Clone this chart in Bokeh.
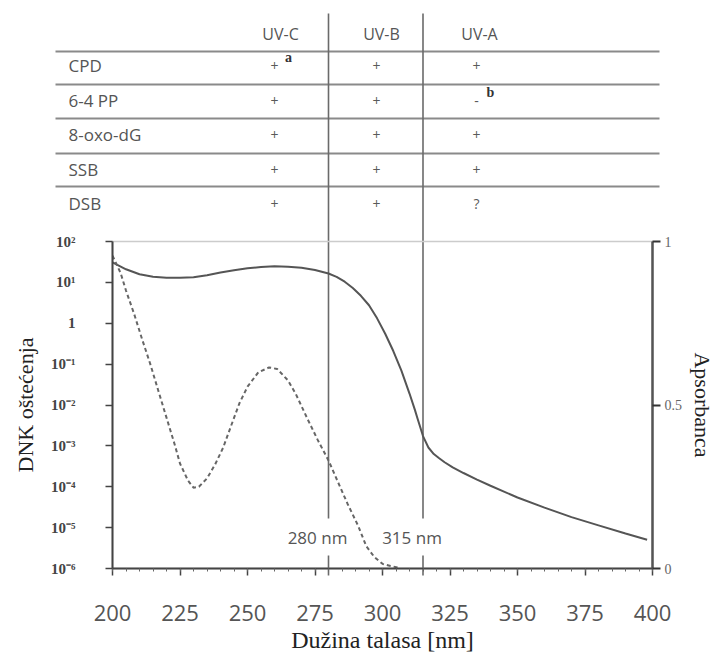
from bokeh.plotting import figure
from bokeh.models import (Range1d, LinearAxis, LinearScale, FixedTicker, SingleIntervalTicker,
                          CustomJSTickFormatter)
from bokeh.layouts import column
from bokeh.core.properties import value
from bokeh.embed import file_html
from bokeh.resources import INLINE

# ---------------- data ----------------
wavelength_abs = [200, 205, 210, 215, 220, 225, 230, 235, 240, 245, 250, 255, 260, 265,
                  270, 275, 280, 283, 286, 289, 292, 295, 298, 301, 304, 307, 310, 312,
                  313, 315, 317, 319, 321, 323, 326, 330, 335, 340, 350, 360, 370, 380,
                  390, 398]
absorbance = [0.936, 0.915, 0.900, 0.892, 0.889, 0.889, 0.891, 0.897, 0.905, 0.912,
              0.918, 0.922, 0.924, 0.923, 0.920, 0.913, 0.902, 0.892, 0.877, 0.858,
              0.834, 0.805, 0.765, 0.718, 0.665, 0.605, 0.535, 0.485, 0.458, 0.405,
              0.370, 0.350, 0.337, 0.325, 0.309, 0.292, 0.272, 0.253, 0.217, 0.186,
              0.157, 0.132, 0.107, 0.088]

wavelength_dmg = [200, 203, 205, 208, 211, 214, 217, 220, 223, 225, 228, 230, 232, 235,
                  238, 241, 244, 247, 250, 254, 258, 261, 265, 268, 272, 276, 280, 284,
                  287, 291, 294, 297, 300, 303, 306]
dna_damage = [45, 17, 6.3, 1.7, 0.4, 0.1, 2.2e-2, 4.9e-3, 1.1e-3, 3.7e-4, 1.4e-4, 9.5e-5,
              1.0e-4, 1.6e-4, 3.5e-4, 9.1e-4, 3.2e-3, 1.1e-2, 2.8e-2, 6.3e-2, 8.3e-2,
              7.6e-2, 4.0e-2, 1.8e-2, 4.9e-3, 1.4e-3, 4.4e-4, 1.1e-4, 3.9e-5, 1.1e-5,
              3.5e-6, 1.9e-6, 1.3e-6, 1.15e-6, 1.05e-6]

damage_ticks = [1e-6, 1e-5, 1e-4, 1e-3, 1e-2, 1e-1, 1, 10, 100]
damage_tick_labels = ["10⁻⁶", "10⁻⁵", "10⁻⁴", "10⁻³", "10⁻²", "10⁻¹", "1", "10¹", "10²"]
abs_ticks = [0, 0.5, 1]
abs_tick_labels = ["0", "0.5", "1"]

band_edges = [280, 315]
band_edge_labels = ["280 nm", "315 nm"]

bands = ["UV-C", "UV-B", "UV-A"]
lesions = ["CPD", "6-4 PP", "8-oxo-dG", "SSB", "DSB"]
uvc_marks = ["+", "+", "+", "+", "+"]
uvb_marks = ["+", "+", "+", "+", "+"]
uva_marks = ["+", "-", "+", "+", "?"]
footnote_text = ["a", "b"]
footnote_row = [0, 1]
footnote_col = [0, 2]

# ---------------- layout constants (pixels) ----------------
FIG_W, FIG_H = 722, 662
B_LEFT, B_RIGHT, B_TOP, B_BOTTOM = 112, 70, 241, 94
X_START, X_END = 200, 400
PX_PER_NM = (FIG_W - B_LEFT - B_RIGHT) / (X_END - X_START)

HEADER_Y = 33
ROW_Y = [65, 100, 134, 169, 203]
RULE_Y = [51, 84, 118, 153, 186]
RULE_X0, RULE_X1 = 55, 659
LESION_X = 68
MARK_X = [274, 376, 476]
HEADER_X = [280, 381, 479]
VLINE_TOP, VLINE_GAP0, VLINE_GAP1, VLINE_BOT = 13, 518, 555, 575
EDGE_LABEL_Y = 537

SANS_NAME = "Open Sans"
SERIF_NAME = "Liberation Serif"
SANS = value(SANS_NAME)
SERIF = value(SERIF_NAME)

LOOKUP_LOG = ("for (let i = 0; i < tvals.length; i++) {"
              " if (Math.abs(Math.log10(tvals[i]) - Math.log10(tick)) < 1e-6) return ttexts[i]; }"
              " return '';")
LOOKUP_LIN = ("for (let i = 0; i < tvals.length; i++) {"
              " if (Math.abs(tvals[i] - tick) < 1e-9) return ttexts[i]; }"
              " return '';")

# ---------------- background figure: table + band edges ----------------
bg = figure(width=FIG_W, height=FIG_H,
            x_range=Range1d(X_START - B_LEFT / PX_PER_NM, X_END + B_RIGHT / PX_PER_NM),
            y_range=Range1d(FIG_H, 0),
            x_axis_location=None, y_axis_location=None,
            toolbar_location=None, output_backend="svg", min_border=0,
            outline_line_color=None, frame_align=False)
bg.extra_x_ranges = {"px": Range1d(0, FIG_W)}
bg.grid.visible = False

bg.segment(x0=[RULE_X0] * len(RULE_Y), x1=[RULE_X1] * len(RULE_Y), y0=RULE_Y, y1=RULE_Y,
           x_range_name="px", line_color="#8a8a8a", line_width=2)

edge_x = [e for e in band_edges for _ in (0, 1)]
bg.segment(x0=edge_x, x1=edge_x,
           y0=[VLINE_TOP, VLINE_GAP1] * len(band_edges),
           y1=[VLINE_GAP0, VLINE_BOT] * len(band_edges),
           line_color="#6a6a6a", line_width=1.6)
bg.text(x=band_edges, y=[EDGE_LABEL_Y] * len(band_edges), text=band_edge_labels,
        x_offset=-11, text_align="center", text_baseline="middle",
        text_font=SANS, text_font_size="17px", text_color="#555555")

bg.text(x=HEADER_X, y=[HEADER_Y] * 3, text=bands, x_range_name="px",
        text_align="center", text_baseline="middle",
        text_font=SANS, text_font_size="16px", text_color="#555555")
bg.text(x=[LESION_X] * len(lesions), y=ROW_Y, text=lesions, x_range_name="px",
        text_align="left", text_baseline="middle",
        text_font=SANS, text_font_size="17px", text_color="#555555")
for cx, marks in zip(MARK_X, [uvc_marks, uvb_marks, uva_marks]):
    bg.text(x=[cx] * len(marks), y=ROW_Y, text=marks, x_range_name="px",
            text_align="center", text_baseline="middle",
            text_font=SANS, text_font_size="14px", text_color="#5a5a5a")
bg.text(x=[MARK_X[c] + 14 for c in footnote_col], y=[ROW_Y[r] - 8 for r in footnote_row],
        text=footnote_text, x_range_name="px", text_align="center", text_baseline="middle",
        text_font=SERIF, text_font_size="14px", text_font_style="bold", text_color="#333333")

# ---------------- chart ----------------
p = figure(width=FIG_W, height=FIG_H,
           x_range=Range1d(X_START, X_END), y_range=Range1d(1e-6, 1e2),
           y_axis_type="log", toolbar_location=None, output_backend="svg",
           min_border_left=B_LEFT, min_border_right=B_RIGHT,
           min_border_top=B_TOP, min_border_bottom=B_BOTTOM,
           border_fill_color=None, background_fill_color=None,
           outline_line_color="#cccccc", outline_line_width=1.5, frame_align=False)
p.grid.visible = False
p.extra_y_ranges = {"abs": Range1d(0, 1)}
p.extra_y_scales = {"abs": LinearScale()}

xa = p.xaxis[0]
xa.ticker = SingleIntervalTicker(interval=25, num_minor_ticks=5)
xa.axis_line_color = "#444444"
xa.axis_line_width = 2
xa.major_tick_out = 7
xa.major_tick_in = 0
xa.minor_tick_out = 3
xa.minor_tick_in = 0
xa.major_tick_line_color = "#444444"
xa.major_tick_line_width = 1.5
xa.minor_tick_line_color = "#666666"
xa.major_label_text_font = SANS_NAME
xa.major_label_text_font_size = "22px"
xa.major_label_text_color = "#555555"
xa.major_label_standoff = 29
xa.axis_label = "Dužina talasa [nm]"
xa.axis_label_text_font = SERIF_NAME
xa.axis_label_text_font_size = "24px"
xa.axis_label_text_font_style = "normal"
xa.axis_label_text_color = "#222222"
xa.axis_label_standoff = 3

ya = p.yaxis[0]
ya.ticker = FixedTicker(ticks=damage_ticks, minor_ticks=[])
ya.formatter = CustomJSTickFormatter(
    args=dict(tvals=damage_ticks, ttexts=damage_tick_labels), code=LOOKUP_LOG)
ya.axis_line_color = "#444444"
ya.axis_line_width = 2
ya.major_tick_out = 7
ya.major_tick_in = 0
ya.major_tick_line_color = "#444444"
ya.major_tick_line_width = 1.5
ya.major_label_text_font = SERIF_NAME
ya.major_label_text_font_size = "15px"
ya.major_label_text_font_style = "bold"
ya.major_label_text_color = "#444444"
ya.major_label_standoff = 30
ya.axis_label = "DNK oštećenja"
ya.axis_label_text_font = SERIF_NAME
ya.axis_label_text_font_size = "22px"
ya.axis_label_text_font_style = "normal"
ya.axis_label_text_color = "#222222"
ya.axis_label_standoff = 10

ra = LinearAxis(y_range_name="abs", ticker=FixedTicker(ticks=abs_ticks, minor_ticks=[]))
ra.formatter = CustomJSTickFormatter(
    args=dict(tvals=abs_ticks, ttexts=abs_tick_labels), code=LOOKUP_LIN)
ra.axis_line_color = "#555555"
ra.axis_line_width = 2.5
ra.major_tick_out = 8
ra.major_tick_in = 0
ra.major_tick_line_color = "#333333"
ra.major_tick_line_width = 2
ra.major_label_text_font = SERIF_NAME
ra.major_label_text_font_size = "14px"
ra.major_label_text_color = "#666666"
ra.major_label_standoff = 4
ra.axis_label = "Apsorbanca"
ra.axis_label_text_font = SERIF_NAME
ra.axis_label_text_font_size = "22px"
ra.axis_label_text_font_style = "normal"
ra.axis_label_text_color = "#222222"
ra.axis_label_standoff = 5
p.add_layout(ra, "right")

p.line(wavelength_abs, absorbance, y_range_name="abs", line_color="#555555", line_width=2)
p.line(wavelength_dmg, dna_damage, line_color="#666666", line_width=2, line_dash="4 3")

p.margin = (-FIG_H, 0, 0, 0)

layout = column(bg, p)
open("out.html", "w").write(file_html(layout, INLINE))
